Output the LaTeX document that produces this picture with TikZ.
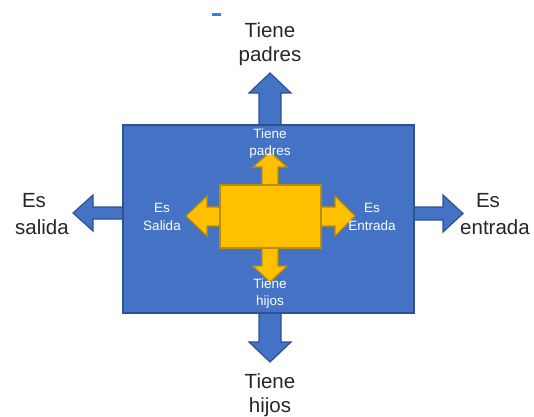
\documentclass[tikz,border=0pt]{standalone}
\usepackage{fontspec}
\setmainfont{Liberation Sans}
\definecolor{bfill}{HTML}{4472C4}
\definecolor{bline}{HTML}{2F528F}
\definecolor{yfill}{HTML}{FFC000}
\definecolor{yline}{HTML}{BC8C00}
\definecolor{dashblue}{HTML}{2F7FEF}
\tikzset{
  barrow/.style={fill=bfill, draw=bline, line width=1.2pt, line join=miter},
  yarrow/.style={fill=yfill, draw=yline, line width=1.2pt, line join=miter},
  bigtxt/.style={inner sep=0pt, anchor=base, font=\fontsize{20.5}{24}\selectfont, text=black!85},
  smalltxt/.style={inner sep=0pt, anchor=base, font=\fontsize{13.5}{16}\selectfont, text=white},
}
\begin{document}
\begin{tikzpicture}[x=1pt,y=-1pt]
\useasboundingbox (0,0) rectangle (534,416);
% small blue mark
\fill[dashblue] (212,12.5) rectangle (221,15.5);
% outer blue arrows
\draw[barrow] (259,125) -- (259,93) -- (249,93) -- (270,73) -- (291,93) -- (281,93) -- (281,125) -- cycle;
\draw[barrow] (259,313) -- (259,342) -- (249,342) -- (270,362) -- (291,342) -- (281,342) -- (281,313) -- cycle;
\draw[barrow] (123,207) -- (93,207) -- (93,195) -- (73,213) -- (93,231) -- (93,219) -- (123,219) -- cycle;
\draw[barrow] (414,207) -- (443,207) -- (443,195) -- (463,213.5) -- (443,232) -- (443,220) -- (414,220) -- cycle;
% big blue box
\node[draw=bline, fill=bfill, line width=1.5pt, minimum width=291pt, minimum height=188pt, inner sep=0pt] (box) at (268.5,219) {};
% yellow arrows
\draw[yarrow] (262,185) -- (262,167) -- (253,167) -- (270,152) -- (287,167) -- (278,167) -- (278,185) -- cycle;
\draw[yarrow] (262,248) -- (262,266) -- (253,266) -- (270,282) -- (287,266) -- (278,266) -- (278,248) -- cycle;
\draw[yarrow] (220,207) -- (207,207) -- (207,196) -- (186,216) -- (207,236) -- (207,226) -- (220,226) -- cycle;
\draw[yarrow] (321,207) -- (335,207) -- (335,196) -- (355,216) -- (335,236) -- (335,226) -- (321,226) -- cycle;
% yellow rectangle
\node[draw=yline, fill=yfill, line width=1.5pt, minimum width=101pt, minimum height=63pt, inner sep=0pt] (core) at (270.5,216.5) {};
% outer labels
\node[bigtxt] (tp1) at (270,37) {Tiene};
\node[bigtxt] (tp2) at (270,61) {padres};
\node[bigtxt] (th1) at (270,388) {Tiene};
\node[bigtxt] (th2) at (270,412) {hijos};
\node[bigtxt] (es1) at (34,207) {Es};
\node[bigtxt] (es2) at (42,234) {salida};
\node[bigtxt] (ee1) at (488,207) {Es};
\node[bigtxt] (ee2) at (495,234) {entrada};
% inner labels
\node[smalltxt] (ip1) at (270,138) {Tiene};
\node[smalltxt] (ip2) at (270,155) {padres};
\node[smalltxt] (ih1) at (270,288) {Tiene};
\node[smalltxt] (ih2) at (270,305) {hijos};
\node[smalltxt] (is1) at (162,212) {Es};
\node[smalltxt] (is2) at (162,230) {Salida};
\node[smalltxt] (ie1) at (372,212) {Es};
\node[smalltxt] (ie2) at (372,230) {Entrada};
\end{tikzpicture}
\end{document}
